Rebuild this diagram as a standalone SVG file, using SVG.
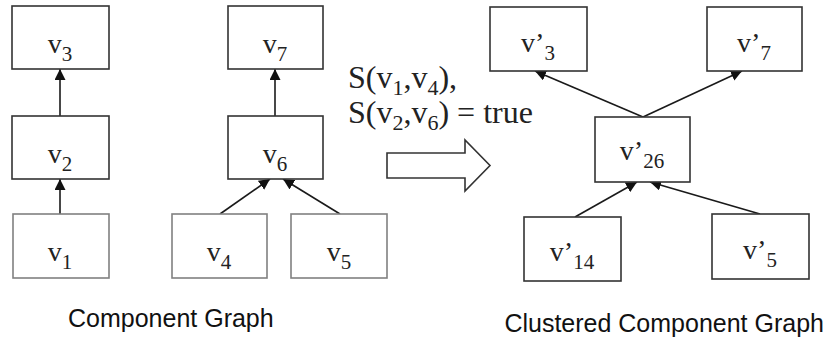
<svg xmlns="http://www.w3.org/2000/svg" width="828" height="343" viewBox="0 0 828 343">
<style>
  .box { fill: #ffffff; stroke: #333333; stroke-width: 1.6; }
  .box.light { stroke: #808080; }
  .lbl { font-family: "Liberation Serif", "Times New Roman", serif; font-size: 28px; fill: #222222; text-anchor: middle; }
  .sub { font-size: 21px; }
  .edge { stroke: #1a1a1a; stroke-width: 1.6; fill: none; marker-end: url(#ah); }
  .cond { font-family: "Liberation Serif", "Times New Roman", serif; font-size: 32px; fill: #222222; }
  .csub { font-size: 22px; }
  .cap { font-family: "Liberation Sans", Arial, sans-serif; font-size: 25px; fill: #111111; }
</style>
<defs>
  <marker id="ah" viewBox="0 0 10 10" refX="10" refY="5" markerUnits="userSpaceOnUse" markerWidth="11" markerHeight="11" orient="auto">
    <path d="M0,0 L10,5 L0,10 z" fill="#111111"/>
  </marker>
</defs>
<rect width="828" height="343" fill="#ffffff"/>

<g id="connectors">
  <line class="edge" x1="60" y1="214" x2="60" y2="179"/>
  <line class="edge" x1="60" y1="116" x2="60" y2="69"/>
  <line class="edge" x1="275" y1="116" x2="275" y2="69"/>
  <line class="edge" x1="220" y1="214" x2="270" y2="179"/>
  <line class="edge" x1="340" y1="214" x2="283" y2="179"/>
  <line class="edge" x1="643" y1="117" x2="535" y2="71"/>
  <line class="edge" x1="643" y1="117" x2="742" y2="71"/>
  <line class="edge" x1="575" y1="217" x2="637" y2="182"/>
  <line class="edge" x1="760" y1="214" x2="650" y2="182"/>
</g>

<g id="v3"><rect class="box" x="12" y="6" width="97" height="63"/><text class="lbl" x="60" y="53">v<tspan class="sub" dy="8">3</tspan></text></g>
<g id="v2"><rect class="box" x="12" y="116" width="97" height="63"/><text class="lbl" x="60" y="163">v<tspan class="sub" dy="8">2</tspan></text></g>
<g id="v1"><rect class="box light" x="13" y="214" width="96" height="64"/><text class="lbl" x="60" y="261">v<tspan class="sub" dy="8">1</tspan></text></g>
<g id="v7"><rect class="box" x="228" y="6" width="95" height="63"/><text class="lbl" x="275" y="53">v<tspan class="sub" dy="8">7</tspan></text></g>
<g id="v6"><rect class="box" x="228" y="116" width="95" height="63"/><text class="lbl" x="275" y="163">v<tspan class="sub" dy="8">6</tspan></text></g>
<g id="v4"><rect class="box light" x="172" y="214" width="95" height="64"/><text class="lbl" x="219" y="261">v<tspan class="sub" dy="8">4</tspan></text></g>
<g id="v5"><rect class="box light" x="291" y="214" width="96" height="64"/><text class="lbl" x="339" y="261">v<tspan class="sub" dy="8">5</tspan></text></g>

<g id="condition">
  <text class="cond" x="348" y="88">S(v<tspan class="csub" dy="7">1</tspan><tspan dy="-7">,v</tspan><tspan class="csub" dy="7">4</tspan><tspan dy="-7">),</tspan></text>
  <text class="cond" x="348" y="123">S(v<tspan class="csub" dy="7">2</tspan><tspan dy="-7">,v</tspan><tspan class="csub" dy="7">6</tspan><tspan dy="-7">) = true</tspan></text>
</g>
<g id="transform-arrow">
  <polygon points="387,153 465,153 465,140 490,165.5 465,191 465,178 387,178" fill="#ffffff" stroke="#333333" stroke-width="1.6"/>
</g>

<g id="vp3"><rect class="box" x="490" y="7" width="97" height="64"/><text class="lbl" x="538" y="52">v’<tspan class="sub" dy="8">3</tspan></text></g>
<g id="vp7"><rect class="box" x="707" y="7" width="95" height="64"/><text class="lbl" x="754" y="52">v’<tspan class="sub" dy="8">7</tspan></text></g>
<g id="vp26"><rect class="box" x="595" y="117" width="95" height="65"/><text class="lbl" x="642" y="160">v’<tspan class="sub" dy="8">26</tspan></text></g>
<g id="vp14"><rect class="box" x="524" y="217" width="97" height="64"/><text class="lbl" x="572" y="261">v’<tspan class="sub" dy="8">14</tspan></text></g>
<g id="vp5"><rect class="box" x="712" y="214" width="97" height="65"/><text class="lbl" x="760" y="259">v’<tspan class="sub" dy="8">5</tspan></text></g>

<text class="cap" x="68" y="327">Component Graph</text>
<text class="cap" x="824" y="332" text-anchor="end">Clustered Component Graph</text>
</svg>
